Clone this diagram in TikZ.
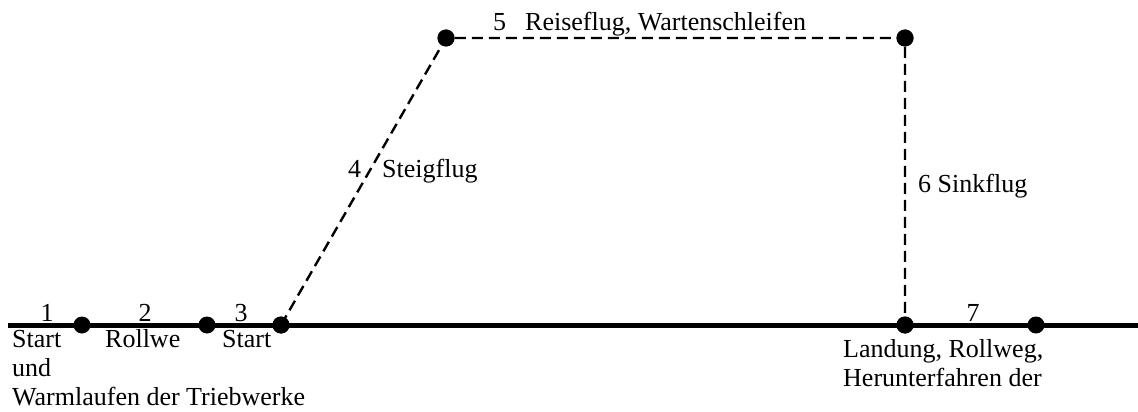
\documentclass[tikz,border=0pt]{standalone}
\usepackage{fontspec}
\setmainfont{Liberation Serif}
\begin{document}
\begin{tikzpicture}[x=1pt,y=-1pt,
  lbl/.style={inner sep=0pt,font=\fontsize{26}{29}\selectfont},
  dot/.style={circle,fill=black,inner sep=0pt,minimum size=17pt},
  ground/.style={line width=5pt},
  flight/.style={line width=2.4pt,dash pattern=on 11pt off 6pt}]
\useasboundingbox (0,0) rectangle (1138,412);
% points
\coordinate (gl) at (8,325);
\coordinate (gr) at (1138,325);
\node[dot] (d1) at (82,325) {};
\node[dot] (d2) at (207,325) {};
\node[dot] (d3) at (281,325) {};
\node[dot] (d4) at (446,38) {};
\node[dot] (d5) at (905,38) {};
\node[dot] (d6) at (905,325) {};
\node[dot] (d7) at (1036,325) {};
% lines
\draw[ground] (gl) -- (gr);
\draw[flight] (d3.center) -- (d4.center) -- (d5.center) -- (d6.center);
\node[dot] at (d3) {};
\node[dot] at (d4) {};
\node[dot] at (d5) {};
\node[dot] at (d6) {};
% labels
\node[lbl,anchor=base] (n1) at (47,321) {1};
\node[lbl,anchor=base west,align=left] (t1) at (12,405) {Start\\und\\Warmlaufen der Triebwerke};
\node[lbl,anchor=base] (n2) at (145,321) {2};
\node[lbl,anchor=base west] (t2) at (105,347) {Rollwe};
\node[lbl,anchor=base] (n3) at (241,321) {3};
\node[lbl,anchor=base west] (t3) at (222,347) {Start};
\node[lbl,anchor=base west] (n4) at (348,177) {4};
\node[lbl,anchor=base west] (t4) at (382,177) {Steigflug};
\node[lbl,anchor=base west] (t5) at (493,31) {5\hspace{19pt}Reiseflug, Wartenschleifen};
\node[lbl,anchor=base west] (t6) at (918,192) {6 Sinkflug};
\node[lbl,anchor=base] (n7) at (973,321) {7};
\node[lbl,anchor=base west,align=left] (t7) at (843,386) {Landung, Rollweg,\\Herunterfahren der};
\end{tikzpicture}
\end{document}
